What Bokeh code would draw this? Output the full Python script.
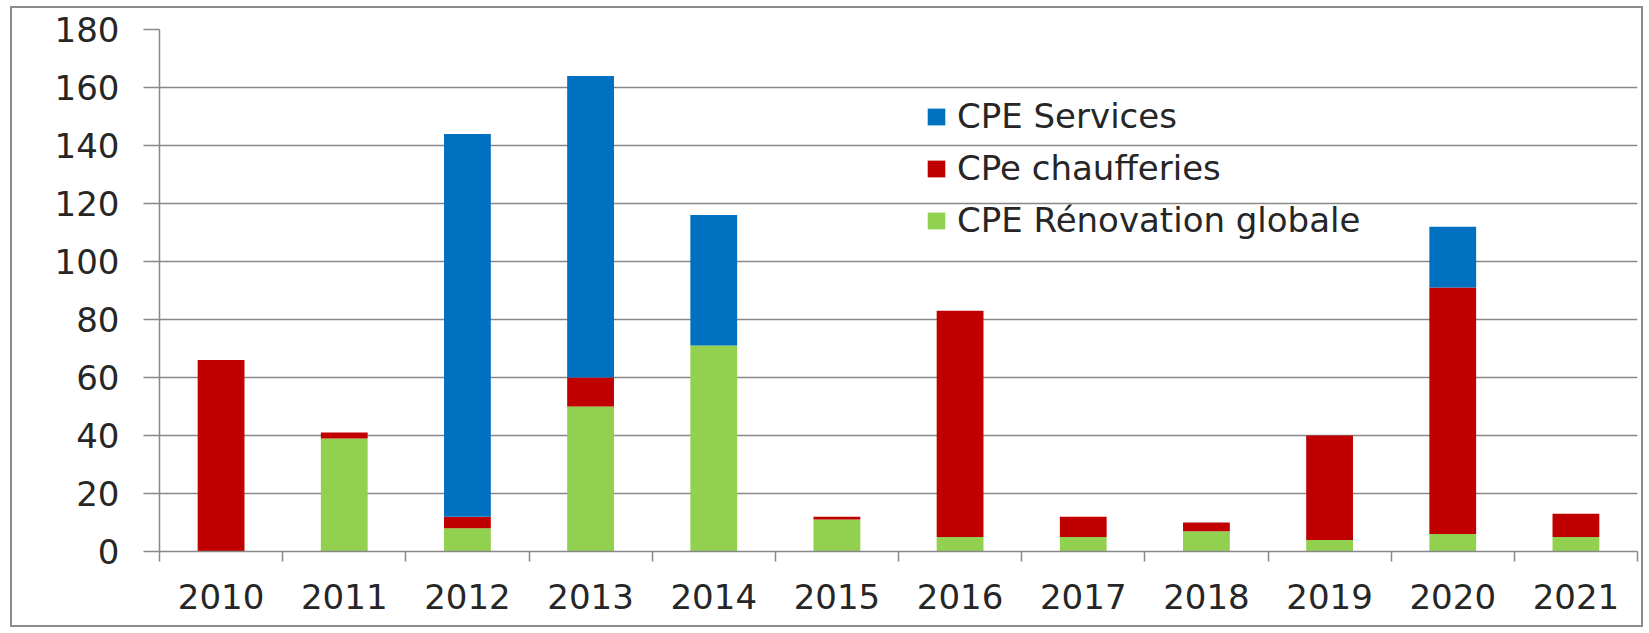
from bokeh.plotting import figure
from bokeh.models import ColumnDataSource, Range1d, FixedTicker, Legend, LegendItem
from bokeh.embed import file_html
from bokeh.resources import INLINE

# ---- data ----
years = ["2010", "2011", "2012", "2013", "2014", "2015",
         "2016", "2017", "2018", "2019", "2020", "2021"]
renovation = [0, 39, 8, 50, 71, 11, 5, 5, 7, 4, 6, 5]
chaufferies = [66, 2, 4, 10, 0, 1, 78, 7, 3, 36, 85, 8]
services = [0, 0, 132, 104, 45, 0, 0, 0, 0, 0, 21, 0]
y_ticks = [0, 20, 40, 60, 80, 100, 120, 140, 160, 180]

series_names = ["CPE Services", "CPe chaufferies", "CPE Rénovation globale"]
BLUE, RED, GREEN = "#0070C0", "#C00000", "#92D050"
GRID = "#888888"
TXT = "#262626"
FONT = "DejaVu Sans"

idx = list(range(len(years)))
src = ColumnDataSource(dict(x=idx, renovation=renovation,
                            chaufferies=chaufferies, services=services))

# outer page frame: border box from x=10..1647, y=6..631
p = figure(width=1633, height=621, output_backend="svg", toolbar_location=None,
           x_range=Range1d(-0.5, len(years) - 0.5), y_range=Range1d(0, 180),
           min_border_left=147, min_border_right=8, min_border_top=21,
           min_border_bottom=78)
p.styles = {"margin-left": "10px", "margin-top": "6px",
            "border": "2px solid #8c8c8c"}
p.outline_line_color = None
p.background_fill_color = "white"
p.border_fill_color = "white"

rs = p.vbar_stack(["renovation", "chaufferies", "services"], x="x", width=0.38,
                  fill_color=[GREEN, RED, BLUE], line_color=None, source=src)

# axes
p.xgrid.grid_line_color = None
p.ygrid.grid_line_color = GRID
p.ygrid.grid_line_width = 1.5

xa = p.xaxis[0]
xa.ticker = FixedTicker(ticks=idx, minor_ticks=[i - 0.5 for i in range(len(years) + 1)])
xa.major_label_overrides = {i: y for i, y in zip(idx, years)}
xa.major_tick_out = 0
xa.major_tick_in = 0
xa.minor_tick_out = 10
xa.minor_tick_in = 0
xa.minor_tick_line_color = GRID
xa.minor_tick_line_width = 1.5
xa.axis_line_color = GRID
xa.axis_line_width = 1.5
xa.major_label_text_font = FONT
xa.major_label_text_font_size = "34px"
xa.major_label_text_color = TXT
xa.major_label_standoff = 22

ya = p.yaxis[0]
ya.ticker = FixedTicker(ticks=y_ticks, minor_ticks=[])
ya.major_tick_out = 16
ya.major_tick_in = 0
ya.major_tick_line_color = GRID
ya.major_tick_line_width = 1.5
ya.minor_tick_line_color = None
ya.axis_line_color = GRID
ya.axis_line_width = 1.5
ya.major_label_text_font = FONT
ya.major_label_text_font_size = "34px"
ya.major_label_text_color = TXT
ya.major_label_standoff = 24

# legend
legend = Legend(items=[LegendItem(label=series_names[0], renderers=[rs[2]]),
                       LegendItem(label=series_names[1], renderers=[rs[1]]),
                       LegendItem(label=series_names[2], renderers=[rs[0]])],
                location=(766, 311))
legend.background_fill_alpha = 0
legend.border_line_color = None
legend.padding = 0
legend.margin = 0
legend.glyph_width = 22
legend.glyph_height = 21
legend.label_standoff = 10
legend.label_height = 40
legend.spacing = 12
legend.label_text_font = FONT
legend.label_text_font_size = "34px"
legend.label_text_color = TXT
p.add_layout(legend)

open("out.html", "w").write(file_html(p, INLINE))
